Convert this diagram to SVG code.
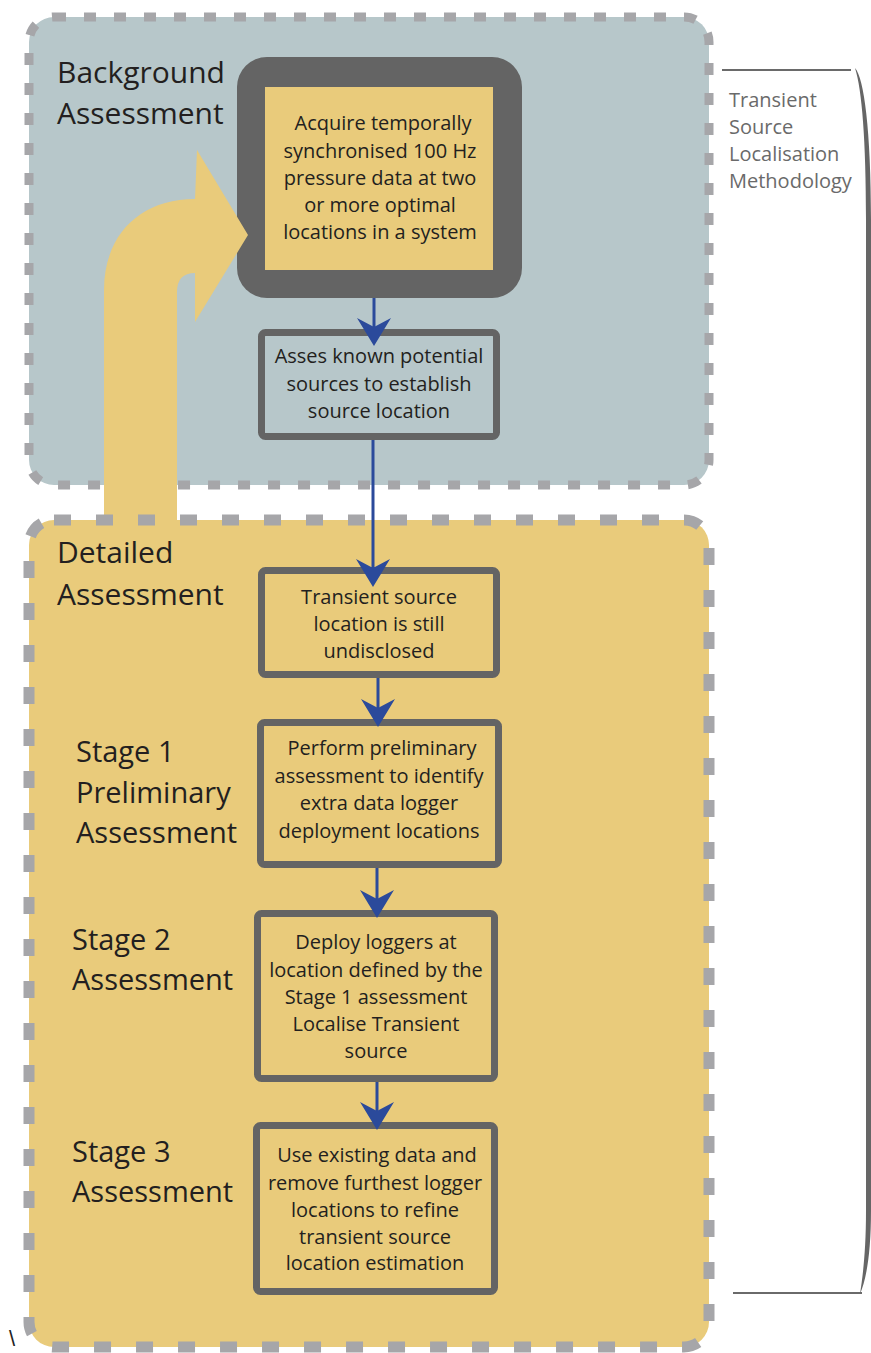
<svg xmlns="http://www.w3.org/2000/svg" width="871" height="1353" viewBox="0 0 871 1353">
  <defs>
    <style>
      .panel-top { fill: #b7c7ca; stroke: #a6a6a9; stroke-width: 9; stroke-dasharray: 12 18; }
      .panel-bottom { fill: #e9cb7b; stroke: #a6a6a9; stroke-width: 11; stroke-dasharray: 17 25; }
      .box { stroke: #646464; stroke-width: 7; }
      .box-grey { fill: #b7c7ca; }
      .box-yellow { fill: #e9cb7b; }
      .txt { font-family: "Open Sans", "Liberation Sans", sans-serif; fill: #231f20; }
      .box-txt { font-size: 20px; text-anchor: middle; }
      .stage { font-size: 29px; }
      .section { font-size: 30px; }
      .note { font-family: "Open Sans", "Liberation Sans", sans-serif; font-size: 20px; fill: #6a6a6a; }
      .flow { stroke: #2b4a9b; stroke-width: 3; fill: none; marker-end: url(#head); }
    </style>
    <marker id="head" markerUnits="userSpaceOnUse" viewBox="-30 -20 40 40" markerWidth="40" markerHeight="40" refX="-19" refY="0" orient="auto">
      <path d="M0,0 L-28,-17 L-19,0 L-28,17 Z" fill="#2b4a9b"/>
    </marker>
  </defs>

  <rect width="871" height="1353" fill="#ffffff"/>

  <!-- Background assessment panel -->
  <g id="panel-background">
    <rect class="panel-top" x="29" y="17" width="680" height="468" rx="25"/>
    <text class="txt section" x="57" y="83">Background</text>
    <text class="txt section" x="57" y="124">Assessment</text>
  </g>

  <!-- Data acquisition box with heavy frame -->
  <g id="node-acquire">
    <rect x="237" y="57" width="285" height="241" rx="30" fill="#646464"/>
    <rect x="265" y="87" width="228" height="183" fill="#e9cb7b"/>
    <text class="txt box-txt" x="383" y="130">Acquire temporally</text>
    <text class="txt box-txt" x="380" y="158">synchronised 100 Hz</text>
    <text class="txt box-txt" x="380" y="185">pressure data at two</text>
    <text class="txt box-txt" x="380" y="212">or more optimal</text>
    <text class="txt box-txt" x="380" y="239">locations in a system</text>
  </g>

  <!-- Feedback arrow from the detailed stage back to acquisition -->
  <g id="feedback-arrow">
    <path d="M104,525 L104,290 C104,235 140,199 195,199 L197,150 L248,235 L195,322 L195,273 Q177,273 177,292 L177,525 Z" fill="#e9cb7b"/>
  </g>

  <!-- Detailed assessment panel -->
  <g id="panel-detailed">
    <rect class="panel-bottom" x="29" y="520" width="680" height="827" rx="25"/>
    <text class="txt section" x="57" y="563">Detailed</text>
    <text class="txt section" x="57" y="605">Assessment</text>
    <text class="txt stage" x="76" y="762">Stage 1</text>
    <text class="txt stage" x="76" y="803">Preliminary</text>
    <text class="txt stage" x="76" y="843">Assessment</text>
    <text class="txt stage" x="72" y="950">Stage 2</text>
    <text class="txt stage" x="72" y="990">Assessment</text>
    <text class="txt stage" x="72" y="1162">Stage 3</text>
    <text class="txt stage" x="72" y="1202">Assessment</text>
  </g>

  <g id="node-known-sources">
    <rect class="box box-grey" x="261.5" y="332.5" width="235" height="104" rx="4"/>
    <text class="txt box-txt" x="379" y="363">Asses known potential</text>
    <text class="txt box-txt" x="379" y="391">sources to establish</text>
    <text class="txt box-txt" x="379" y="418">source location</text>
  </g>

  <g id="node-undisclosed">
    <rect class="box box-yellow" x="261.5" y="570.5" width="235" height="104" rx="4"/>
    <text class="txt box-txt" x="379" y="604">Transient source</text>
    <text class="txt box-txt" x="379" y="631">location is still</text>
    <text class="txt box-txt" x="379" y="658">undisclosed</text>
  </g>

  <g id="node-stage1">
    <rect class="box box-yellow" x="260.5" y="722.5" width="238" height="142" rx="4"/>
    <text class="txt box-txt" x="382" y="755">Perform preliminary</text>
    <text class="txt box-txt" x="379" y="783">assessment to identify</text>
    <text class="txt box-txt" x="379" y="810">extra data logger</text>
    <text class="txt box-txt" x="379" y="838">deployment locations</text>
  </g>

  <g id="node-stage2">
    <rect class="box box-yellow" x="257.5" y="913.5" width="237" height="165" rx="4"/>
    <text class="txt box-txt" x="376" y="949">Deploy loggers at</text>
    <text class="txt box-txt" x="376" y="977">location defined by the</text>
    <text class="txt box-txt" x="376" y="1004">Stage 1 assessment</text>
    <text class="txt box-txt" x="376" y="1031">Localise Transient</text>
    <text class="txt box-txt" x="376" y="1058">source</text>
  </g>

  <g id="node-stage3">
    <rect class="box box-yellow" x="256.5" y="1125.5" width="238" height="166" rx="4"/>
    <text class="txt box-txt" x="377" y="1162">Use existing data and</text>
    <text class="txt box-txt" x="375" y="1190">remove furthest logger</text>
    <text class="txt box-txt" x="375" y="1217">locations to refine</text>
    <text class="txt box-txt" x="375" y="1244">transient source</text>
    <text class="txt box-txt" x="375" y="1270">location estimation</text>
  </g>

  <!-- Flow connectors -->
  <g id="connectors">
    <path class="flow" d="M374,298 L374,327"/>
    <path class="flow" d="M373,440 L373,568"/>
    <path class="flow" d="M378,678 L378,708"/>
    <path class="flow" d="M377,868 L377,899"/>
    <path class="flow" d="M377,1082 L377,1111"/>
  </g>

  <!-- Methodology bracket -->
  <g id="methodology-label">
    <line x1="722" y1="70" x2="851" y2="70" stroke="#6a6a6a" stroke-width="2"/>
    <line x1="733" y1="1293" x2="862" y2="1293" stroke="#6a6a6a" stroke-width="2"/>
    <path d="M855,68 C864,78 871,130 871,220 L871,1210 C871,1255 866,1280 860,1294 C863,1275 866,1250 866,1210 L866,220 C866,140 862,90 855,68 Z" fill="#666666"/>
    <text class="note" x="729" y="107">Transient</text>
    <text class="note" x="729" y="134">Source</text>
    <text class="note" x="729" y="161">Localisation</text>
    <text class="note" x="729" y="188">Methodology</text>
  </g>

  <text x="9" y="1346" font-family="Liberation Sans, sans-serif" font-size="22" fill="#222222">\</text>
</svg>
